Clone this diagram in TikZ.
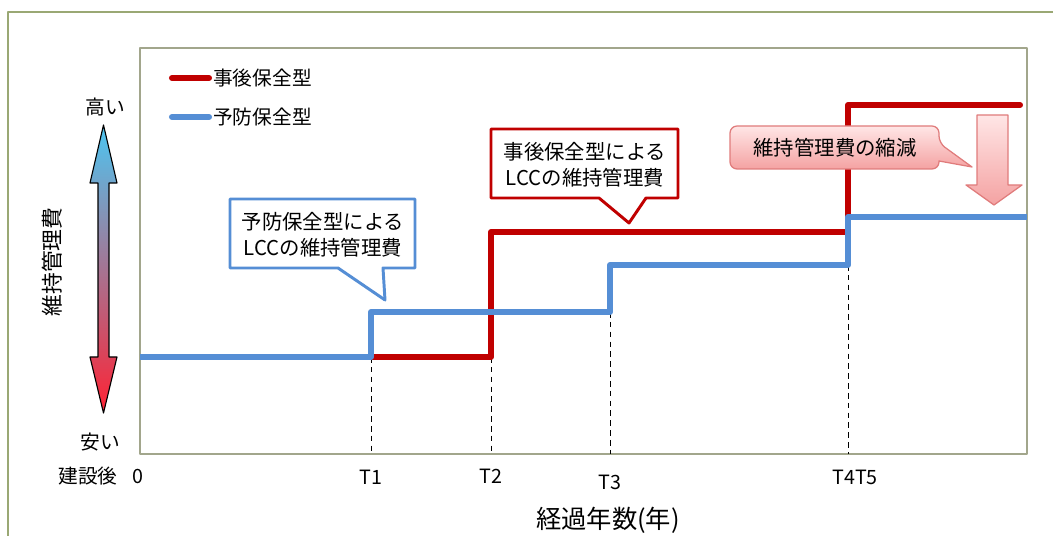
\documentclass[tikz,border=0pt]{standalone}
\usepackage{fontspec}
\setmainfont{Noto Sans CJK JP}
\usetikzlibrary{positioning,calc}
\definecolor{lccred}{HTML}{C00000}
\definecolor{lccblue}{HTML}{558ED5}
\definecolor{frameolive}{HTML}{9AA874}
\definecolor{boxgray}{HTML}{A2A68C}
\definecolor{arrowcyan}{HTML}{4CC6F2}
\definecolor{arrowmid}{HTML}{B08DB8}
\definecolor{arrowred}{HTML}{FF2233}
\definecolor{pinktop}{HTML}{FFE6E6}
\definecolor{pinkbot}{HTML}{F4A2A2}
\definecolor{pinkedge}{HTML}{E07C7C}

\begin{document}
\begin{tikzpicture}[x=0.025cm, y=-0.025cm, line join=round,
  costline/.style={line width=4.3pt},
  calloutbox/.style={line width=2.1pt, fill=white},
  pinkshape/.style={draw=pinkedge, line width=0.9pt, top color=pinktop, bottom color=pinkbot},
  tickline/.style={dash pattern=on 4pt off 3pt, line width=0.7pt}]
   \useasboundingbox (0,0) rectangle (1053,536);
   \draw[frameolive, line width=1pt] (8,536) -- (8,12) -- (1053,12);
   \draw[boxgray, line width=0.8pt] (140,48) rectangle (1027,454);

   % time axis
   \coordinate (t0) at (140,357);
   \coordinate (t1) at (371,454);
   \coordinate (t2) at (491,454);
   \coordinate (t3) at (610,454);
   \coordinate (t4) at (848,454);
   \draw[tickline] (371,357) -- (t1);
   \draw[tickline] (491,357) -- (t2);
   \draw[tickline] (610,312) -- (t3);
   \draw[tickline] (848,265) -- (t4);

   \draw[costline, lccred, line cap=round] (371,357) -- (491,357) -- (491,232) -- (848,232) -- (848,105) -- (1020,105);
   \draw[costline, lccblue] (t0) -- (371,357) -- (371,312) -- (610,312) -- (610,265) -- (848,265) -- (848,217) -- (1027,217);

   \begin{scope}[every node/.style={font=\fontsize{14}{16}\selectfont, inner sep=0pt}]
    \node (lblzero) at (138,476) {0};
    \node (lblafter) at (88,476) {建設後};
    \node (lblt1) at (371,477) {T1};
    \node (lblt2) at (491,476) {T2};
    \node (lblt3) at (610,482) {T3};
    \node (lblt45) at (855,477) {T4T5};
    \node (lblhigh) at (105,107) {高い};
    \node (lbllow) at (100,442) {安い};
    \node (legpost) [anchor=west] at (213,78) {事後保全型};
    \node (legprev) [anchor=west] at (213,117) {予防保全型};
   \end{scope}
   \node (xtitle) [font=\fontsize{18}{20}\selectfont] at (608,520) {経過年数(年)};
   \node (ytitle) [rotate=90, font=\fontsize{15.5}{18}\selectfont] at (52,262) {維持管理費};

   \coordinate (legpostend) at (172,78);
   \coordinate (legprevend) at (172,117);
   \draw[costline, lccred, line cap=round] (legpostend) -- ($(legpost.west)+(-4,0)$);
   \draw[costline, lccblue, line cap=round] (legprevend) -- ($(legprev.west)+(-4,0)$);

   % cost scale arrow
   \shadedraw[top color=arrowcyan, middle color=arrowmid, bottom color=arrowred, draw=black, line width=0.8pt]
     (103.5,125) -- (117,183) -- (109,183) -- (109,357) -- (117,357) -- (103.5,413)
     -- (90,357) -- (98,357) -- (98,183) -- (90,183) -- cycle;

   % callouts
   \filldraw[calloutbox, draw=lccblue] (230,199) -- (415,199) -- (415,268) -- (383,268) -- (385,300) -- (338,268) -- (230,268) -- cycle;
   \filldraw[calloutbox, draw=lccred] (491,129) -- (678,129) -- (678,198) -- (646,198) -- (629,223) -- (599,198) -- (491,198) -- cycle;
   \path[pinkshape, rounded corners=5pt] (730,126) -- (939,126) -- (939,143) [sharp corners] -- (972,167) -- (939,161) [rounded corners=5pt] -- (939,169) -- (730,169) -- cycle;
   \path[pinkshape] (977,115) -- (1008,115) -- (1008,185) -- (1022,185) -- (994,205) -- (966,185) -- (977,185) -- cycle;

   \begin{scope}[every node/.style={font=\fontsize{14.5}{18.5}\selectfont, align=center, inner sep=0pt}]
    \node (noteprev) at (323,235) {予防保全型による\\LCCの維持管理費};
    \node (notepost) at (585,165) {事後保全型による\\LCCの維持管理費};
    \node (notecut) at (835,148) {維持管理費の縮減};
   \end{scope}
\end{tikzpicture}
\end{document}
